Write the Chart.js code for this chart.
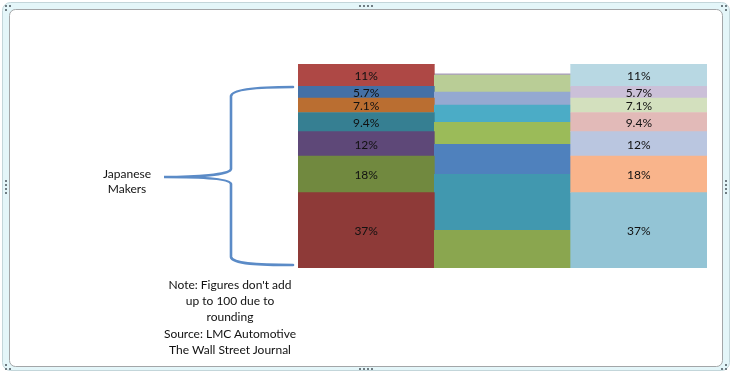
<!DOCTYPE html>
<html>
<head>
<meta charset="utf-8">
<title>Japanese Makers</title>
<script src="https://cdn.jsdelivr.net/npm/chart.js"></script>
<style>
  body { margin: 0; background: #fff; }
  .wrap { position: relative; width: 732px; height: 373px; }
  .note {
    position: absolute;
    font-family: Lato, "Open Sans", sans-serif;
    font-size: 12px;
    color: #111;
    text-align: center;
  }
</style>
</head>
<body>
<div class="wrap">
  <canvas id="myChart" width="732" height="373"></canvas>
  <div class="note" style="left:77px; top:166px; width:100px; line-height:15px;">Japanese<br>Makers</div>
  <div class="note" style="left:150px; top:277px; width:160px; line-height:16.2px;">Note: Figures don't add<br>up to 100 due to<br>rounding<br>Source: LMC Automotive<br>The Wall Street Journal</div>
</div>
<script>
  // categories (three stacked columns)
  const categories = ["", "", ""];

  // segment values, bottom to top, one value per column
  const seg1 = [37, 18.5, 37];
  const seg2 = [18, 27.5, 18];
  const seg3 = [12, 14.8, 12];
  const seg4 = [9.4, 10.8, 9.4];
  const seg5 = [7.1, 8.4, 7.1];
  const seg6 = [5.7, 6.4, 5.7];
  const seg7 = [11, 8.4, 11];
  const seg8 = [0, 0.6, 0];

  // columns that carry percentage labels
  const labelColumns = [0, 2];

  const series = [seg1, seg2, seg3, seg4, seg5, seg6, seg7, seg8];
  const colors = [
    ["#8E3A38", "#8AA64F", "#93C4D5"],
    ["#71893F", "#4198AF", "#F9B48B"],
    ["#5E4878", "#4F81BD", "#BAC6E0"],
    ["#367F92", "#9BBB59", "#E2BAB8"],
    ["#BA6E31", "#4BACC6", "#D3E0BE"],
    ["#4470A6", "#94A9D1", "#CBC0D8"],
    ["#AE4845", "#B9CD96", "#B8D8E3"],
    ["#AE4845", "#A99BBD", "#B8D8E3"]
  ];

  // excel style chart frame
  const framePlugin = {
    id: "frame",
    beforeDraw(chart) {
      const ctx = chart.ctx;
      ctx.save();
      ctx.fillStyle = "#E4F6F9";
      ctx.strokeStyle = "#C3D6DA";
      ctx.lineWidth = 1;
      ctx.beginPath();
      ctx.roundRect(2.5, 2.5, 727, 368, 8);
      ctx.fill();
      ctx.stroke();
      ctx.fillStyle = "#fff";
      ctx.strokeStyle = "#A3A6A8";
      ctx.beginPath();
      ctx.roundRect(9.5, 9.5, 713, 357, 6);
      ctx.fill();
      ctx.stroke();

      // handle dots
      ctx.fillStyle = "#6F7C82";
      const dot = (x, y) => ctx.fillRect(x, y, 2, 2);
      [359, 363, 367, 371].forEach((x) => { dot(x, 5); dot(x, 368); });
      [180, 184, 188, 192].forEach((y) => { dot(5, y); dot(725, y); });
      [[5, 5], [9, 5], [5, 9]].forEach((p) => dot(p[0], p[1]));
      [[721, 5], [725, 5], [725, 9]].forEach((p) => dot(p[0], p[1]));
      [[5, 364], [5, 368], [9, 368]].forEach((p) => dot(p[0], p[1]));
      [[725, 364], [721, 368], [725, 368]].forEach((p) => dot(p[0], p[1]));
      ctx.restore();
    },
    afterDraw(chart) {
      // brace for the japanese makers
      const ctx = chart.ctx;
      ctx.save();
      ctx.strokeStyle = "#5B8BC7";
      ctx.lineWidth = 2.6;
      ctx.lineCap = "round";
      ctx.beginPath();
      ctx.moveTo(293, 87);
      ctx.bezierCurveTo(260, 87, 232, 89, 231, 96);
      ctx.lineTo(231, 169);
      ctx.bezierCurveTo(230, 175, 195, 177, 164, 177);
      ctx.bezierCurveTo(195, 177, 230, 178, 231, 184);
      ctx.lineTo(231, 257);
      ctx.bezierCurveTo(232, 264, 260, 265, 293, 265);
      ctx.stroke();
      ctx.restore();
    }
  };

  // percentage labels in the middle of segments
  const labelPlugin = {
    id: "segLabels",
    afterDatasetsDraw(chart) {
      const ctx = chart.ctx;
      ctx.save();
      ctx.font = "12px Lato";
      ctx.fillStyle = "#111";
      ctx.textAlign = "center";
      ctx.textBaseline = "middle";
      chart.data.datasets.forEach((ds, d) => {
        const meta = chart.getDatasetMeta(d);
        labelColumns.forEach((i) => {
          const v = ds.data[i];
          if (!v) return;
          const el = meta.data[i];
          ctx.fillText(v + "%", el.x, (el.y + el.base) / 2 + 1);
        });
      });
      ctx.restore();
    }
  };

  Chart.defaults.font.family = "Lato";

  new Chart(document.getElementById("myChart"), {
    type: "bar",
    data: {
      labels: categories,
      datasets: series.map((data, i) => ({
        data: data,
        backgroundColor: colors[i],
        borderWidth: 0,
        barPercentage: 1,
        categoryPercentage: 1
      }))
    },
    options: {
      responsive: false,
      animation: false,
      devicePixelRatio: 1,
      layout: { padding: { left: 298, right: 25, top: 64, bottom: 105 } },
      plugins: { legend: { display: false }, tooltip: { enabled: false } },
      scales: {
        x: { stacked: true, display: false },
        y: { stacked: true, display: false, min: 0, max: 100.2 }
      }
    },
    plugins: [framePlugin, labelPlugin]
  });
</script>
</body>
</html>
